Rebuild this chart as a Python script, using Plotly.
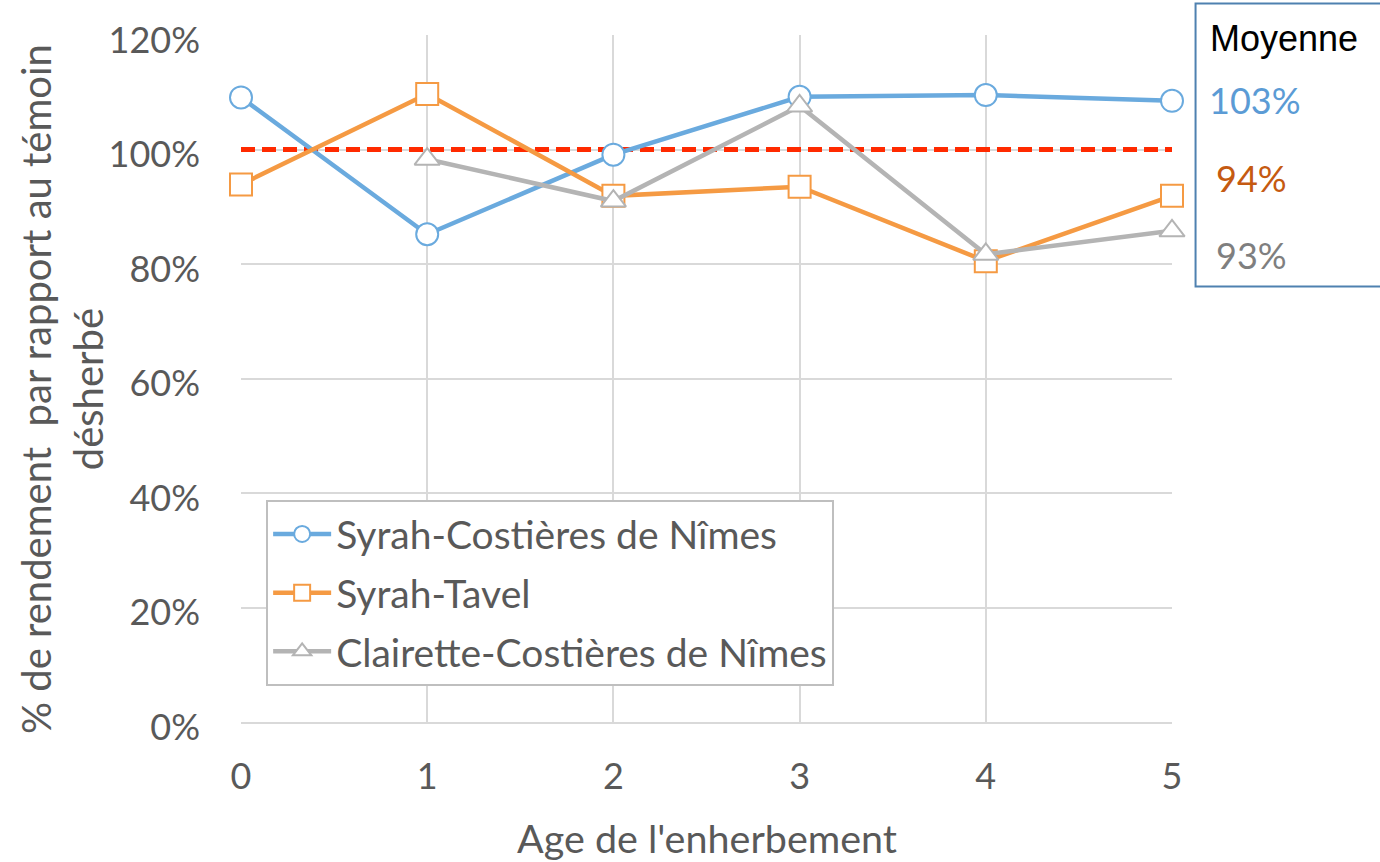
import plotly.graph_objects as go

ages = [0, 1, 2, 3, 4, 5]
syrah_costieres = [1.091, 0.852, 0.991, 1.092, 1.095, 1.085]
syrah_tavel = [0.939, 1.097, 0.919, 0.935, 0.805, 0.919]
clairette_ages = [1, 2, 3, 4, 5]
clairette_costieres = [0.983, 0.910, 1.076, 0.817, 0.858]
reference_level = [1.0, 1.0]
reference_ages = [0, 5]

series_names = ["Syrah-Costières de Nîmes", "Syrah-Tavel", "Clairette-Costières de Nîmes"]
mean_labels = ["103%", "94%", "93%"]
y_ticks = [0, 0.2, 0.4, 0.6, 0.8, 1.0, 1.2]
y_tick_text = ["0%", "20%", "40%", "60%", "80%", "100%", "120%"]

BLUE = "#6AAADE"
ORANGE = "#F59A43"
GREY = "#B4B4B4"
RED = "#FF2A00"
FONT = "Lato"
TXT = "#595959"

fig = go.Figure()

fig.add_trace(go.Scatter(
    x=reference_ages, y=reference_level, mode="lines",
    line=dict(color=RED, width=5, dash="14px,7px"),
    showlegend=False, hoverinfo="skip", cliponaxis=False))

styles = [
    (ages, syrah_costieres, BLUE, "circle"),
    (ages, syrah_tavel, ORANGE, "square"),
    (clairette_ages, clairette_costieres, GREY, "triangle-up"),
]
for i, (xs, ys, col, sym) in enumerate(styles):
    fig.add_trace(go.Scatter(
        x=xs, y=ys, mode="lines+markers", name=series_names[i],
        legendgroup=f"g{i}",
        line=dict(color=col, width=4.5),
        marker=dict(symbol=sym, size=22, color="white",
                    line=dict(color=col, width=2)),
        cliponaxis=False))

fig.update_layout(
    width=1380, height=862,
    margin=dict(l=241, r=208, t=35, b=140, autoexpand=False),
    paper_bgcolor="white", plot_bgcolor="white",
    font=dict(family=FONT, size=36, color=TXT),
    showlegend=True,
    legend=dict(x=0.027, y=0.323, xanchor="left", yanchor="top",
                bordercolor="#BFBFBF", borderwidth=2, bgcolor="white",
                font=dict(family=FONT, size=39, color=TXT),
                itemwidth=58, tracegroupgap=5),
)

fig.update_xaxes(
    range=[0, 5], tickvals=ages, ticktext=[str(a) for a in ages],
    showgrid=True, gridcolor="#D9D9D9", gridwidth=1.5,
    zeroline=False, showline=True, linecolor="#D9D9D9", linewidth=1.5,
    ticks="", ticklabelstandoff=22, automargin=False,
    tickfont=dict(family=FONT, size=36, color=TXT))
fig.update_yaxes(
    range=[0, 1.2], tickvals=y_ticks, ticktext=y_tick_text,
    showgrid=True, gridcolor="#D9D9D9", gridwidth=1.5,
    zeroline=False, showline=False, automargin=False,
    ticks="", ticklabelstandoff=40, ticklabelshift=5,
    tickfont=dict(family=FONT, size=36, color=TXT))

# axis titles
fig.add_annotation(
    text="% de rendement  par rapport au témoin<br>désherbé",
    xref="paper", yref="paper", x=-0.192, y=0.485, textangle=-90,
    xanchor="center", yanchor="middle",
    showarrow=False, font=dict(family=FONT, size=40, color=TXT), align="center")
fig.add_annotation(
    text="Age de l'enherbement",
    xref="paper", yref="paper", x=0.5, y=-0.1674, xanchor="center", yanchor="middle",
    showarrow=False, font=dict(family=FONT, size=39.5, color=TXT))

# Moyenne box
fig.add_shape(type="rect", xref="paper", yref="paper",
              x0=1.0253, x1=1.24, y0=0.634, y1=1.046,
              line=dict(color="#4F81B0", width=2), fillcolor="rgba(0,0,0,0)")
fig.add_annotation(text="Moyenne", xref="paper", yref="paper",
                   x=1.0387, y=0.9956, xanchor="left", yanchor="middle",
                   showarrow=False,
                   font=dict(family="Liberation Sans", size=36, color="black"))
mean_cols = ["#5B9BD5", "#C55A11", "#7F7F7F"]
mean_x = [1.0377, 1.045, 1.045]
mean_y = [0.9054, 0.7918, 0.6798]
for lab, c, mx, my in zip(mean_labels, mean_cols, mean_x, mean_y):
    fig.add_annotation(text=lab, xref="paper", yref="paper",
                       x=mx, y=my, xanchor="left", yanchor="middle",
                       showarrow=False, font=dict(family=FONT, size=36, color=c))

fig.write_html("out.html", config={"displayModeBar": False},
               post_script="document.body.style.margin='0';document.body.style.padding='0';")
